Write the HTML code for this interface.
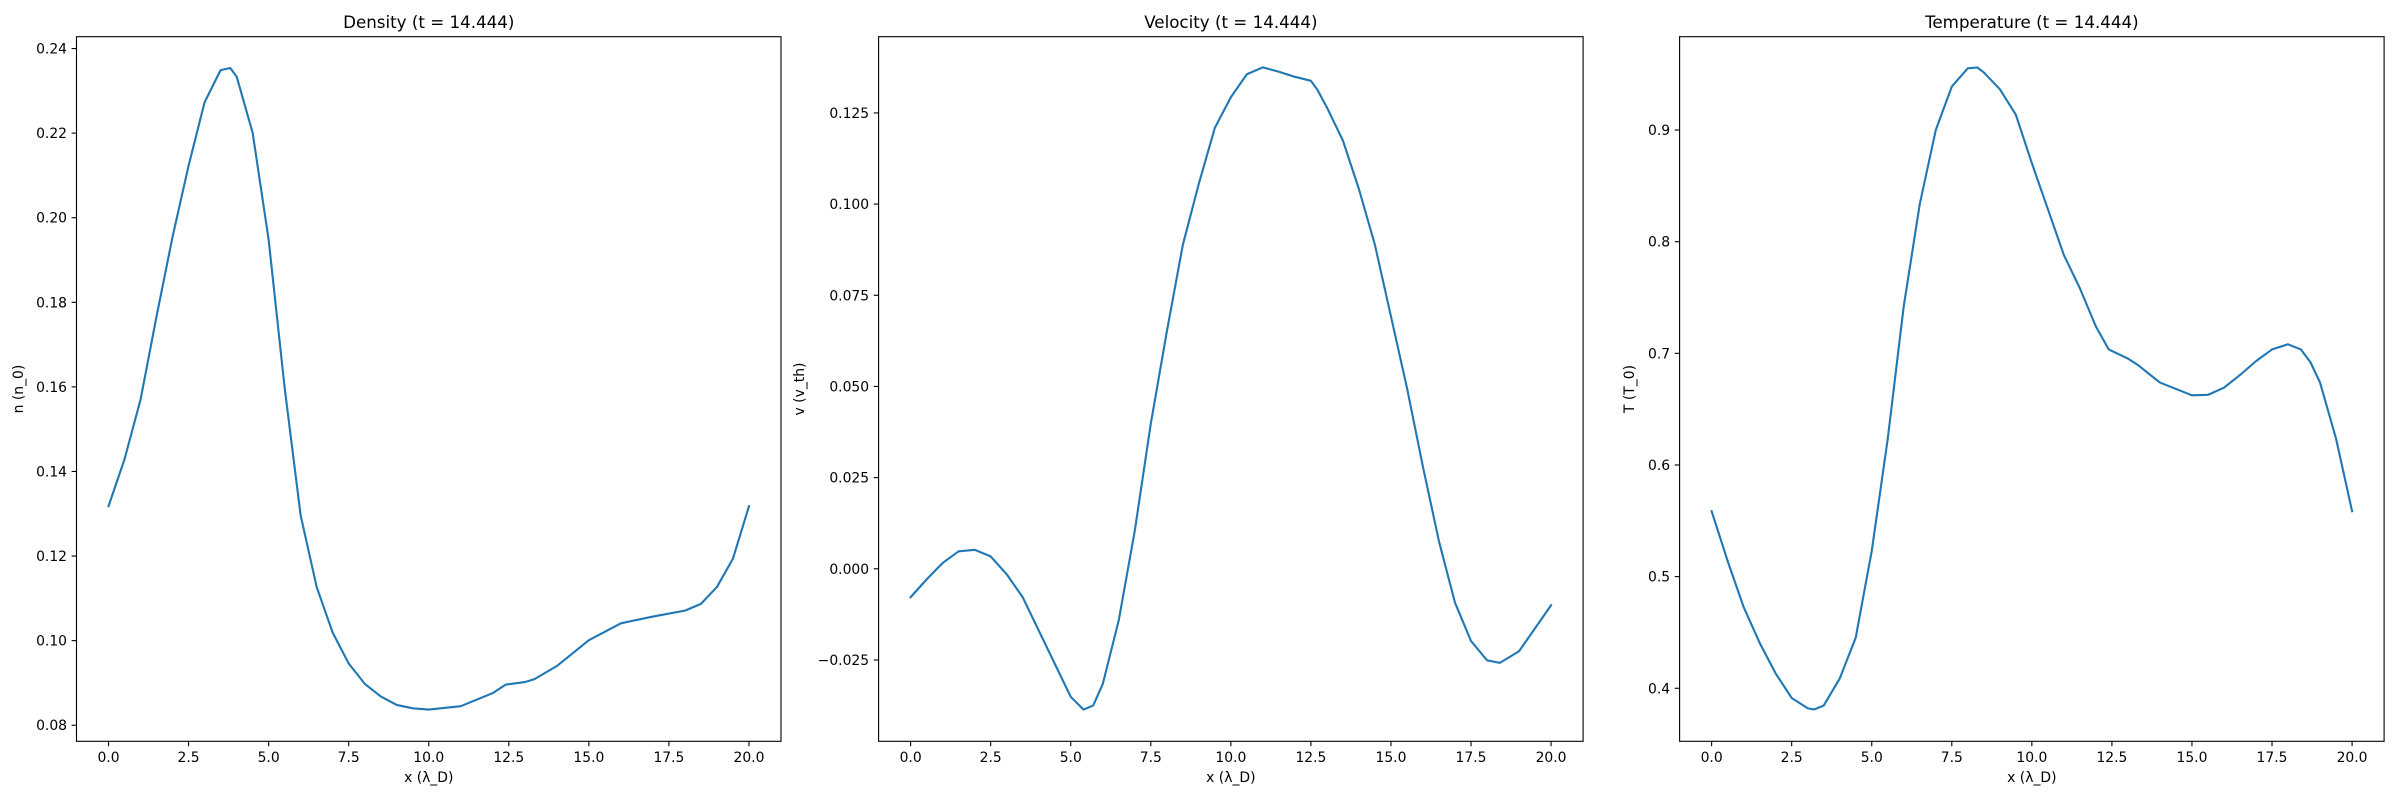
<!DOCTYPE html>
<html><head><meta charset="utf-8"><style>
html,body{margin:0;padding:0;background:#fff;}
svg{display:block;font-family:"DejaVu Sans","Liberation Sans",sans-serif;}
</style></head>
<body>
<svg id="fig" width="2400" height="800" viewBox="0 0 2400 800" xmlns="http://www.w3.org/2000/svg"></svg>
<script>
const xDensity=[0,0.5,1,1.5,2,2.5,3,3.5,3.8,4,4.5,5,5.5,6,6.5,7,7.5,8,8.5,9,9.5,10,11,12,12.4,13,13.3,14,15,16,17,18,18.5,19,19.5,20];
const density=[0.1318,0.1429,0.1570,0.1767,0.1955,0.2123,0.2273,0.2349,0.2354,0.2334,0.2201,0.1948,0.1598,0.1296,0.1127,0.1019,0.0946,0.0898,0.0868,0.0848,0.0840,0.0837,0.0845,0.0876,0.0896,0.0902,0.0909,0.0940,0.1001,0.1041,0.1057,0.1071,0.1087,0.1127,0.1194,0.1318];
const xVelocity=[0,0.5,1,1.5,2,2.5,3,3.5,4,4.5,5,5.4,5.7,6,6.5,7,7.5,8,8.5,9,9.5,10,10.5,11,11.5,12,12.5,12.7,13,13.5,14,14.5,15,15.5,16,16.5,17,17.5,18,18.4,19,19.5,20];
const velocity=[-0.0078,-0.0029,0.0016,0.0048,0.0052,0.0034,-0.0015,-0.0078,-0.0169,-0.0260,-0.0351,-0.0386,-0.0375,-0.0316,-0.0141,0.0104,0.0398,0.0650,0.0888,0.1056,0.1209,0.1293,0.1356,0.1375,0.1363,0.1349,0.1338,0.1314,0.1265,0.1174,0.1041,0.0888,0.0692,0.0496,0.0279,0.0075,-0.0093,-0.0198,-0.0251,-0.0258,-0.0226,-0.0163,-0.0100];
const xTemperature=[0,0.5,1,1.5,2,2.5,3,3.2,3.5,4,4.5,5,5.5,6,6.5,7,7.5,8,8.3,8.5,9,9.5,10,10.5,11,11.5,12,12.4,13,13.3,14,15,15.5,16,16.5,17,17.5,18,18.4,18.7,19,19.5,20];
const temperature=[0.5586,0.514,0.4727,0.4407,0.4132,0.3913,0.3821,0.381,0.3845,0.4087,0.4453,0.5230,0.6235,0.7423,0.8337,0.90,0.9389,0.9553,0.956,0.9516,0.9366,0.9137,0.8703,0.8292,0.788,0.7583,0.7240,0.7035,0.6953,0.6898,0.6738,0.6624,0.6628,0.6692,0.6806,0.6930,0.7035,0.7081,0.7035,0.692,0.6738,0.6235,0.5586];
const xTicks=[0,2.5,5,7.5,10,12.5,15,17.5,20];
const xTickLabels=["0.0","2.5","5.0","7.5","10.0","12.5","15.0","17.5","20.0"];
const densityTicks=[0.08,0.10,0.12,0.14,0.16,0.18,0.20,0.22,0.24];
const densityTickLabels=["0.08","0.10","0.12","0.14","0.16","0.18","0.20","0.22","0.24"];
const velocityTicks=[-0.025,0,0.025,0.05,0.075,0.1,0.125];
const velocityTickLabels=["\u22120.025","0.000","0.025","0.050","0.075","0.100","0.125"];
const temperatureTicks=[0.4,0.5,0.6,0.7,0.8,0.9];
const temperatureTickLabels=["0.4","0.5","0.6","0.7","0.8","0.9"];

const NS="http://www.w3.org/2000/svg";
const svg=document.getElementById('fig');
function mk(tag,attrs,parent){const e=document.createElementNS(NS,tag);for(const k in attrs)e.setAttribute(k,attrs[k]);(parent||svg).appendChild(e);return e;}
const TOP=36.7,BOT=741.3,W=704.5;
const panels=[
 {key:'density',left:76.5,title:'Density (t = 14.444)',ylabel:'n (n_0)',ylim:[0.0762,0.2428],xs:xDensity,ys:density,ticks:densityTicks,labels:densityTickLabels,ylx:23},
 {key:'velocity',left:878.6,title:'Velocity (t = 14.444)',ylabel:'v (v_th)',ylim:[-0.0473,0.1459],xs:xVelocity,ys:velocity,ticks:velocityTicks,labels:velocityTickLabels,ylx:804},
 {key:'temperature',left:1679.6,title:'Temperature (t = 14.444)',ylabel:'T (T_0)',ylim:[0.3525,0.9836],xs:xTemperature,ys:temperature,ticks:temperatureTicks,labels:temperatureTickLabels,ylx:1634}
];
panels.forEach(p=>{
 const g=mk('g',{});
 
 
 const xs=v=>p.left+(v+1)/22*W;
 const ys=v=>BOT-(v-p.ylim[0])/(p.ylim[1]-p.ylim[0])*(BOT-TOP);
 let d='';
 p.xs.forEach((x,i)=>{d+=(i?'L':'M')+xs(x).toFixed(2)+','+ys(p.ys[i]).toFixed(2);});
 const line=mk('path',{d:d,fill:'none',stroke:'#1f77b4','stroke-width':2.1,'stroke-linejoin':'round','stroke-linecap':'square'},g);
 
 
 const fr=mk('rect',{x:p.left,y:TOP,width:W,height:BOT-TOP,fill:'none',stroke:'#000','stroke-width':1.1},g);
 
 
 xTicks.forEach((t,i)=>{
  const x=xs(t);
  mk('line',{x1:x,x2:x,y1:BOT,y2:BOT+4.9,stroke:'#000','stroke-width':1.1},g);
  const tx=mk('text',{x:x,y:762,'font-size':13.9,'text-anchor':'middle',fill:'#000'},g);
  tx.textContent=xTickLabels[i];
  
  
 });
 p.ticks.forEach((t,i)=>{
  const y=ys(t);
  mk('line',{x1:p.left-4.9,x2:p.left,y1:y,y2:y,stroke:'#000','stroke-width':1.1},g);
  const tx=mk('text',{x:p.left-9.5,y:y+5,'font-size':13.9,'text-anchor':'end',fill:'#000'},g);
  tx.textContent=p.labels[i];
  
  
 });
 const ti=mk('text',{x:p.left+W/2,y:28,'font-size':16.7,'text-anchor':'middle',fill:'#000'},g);
 ti.textContent=p.title;
 
 
 const xl=mk('text',{x:p.left+W/2,y:782,'font-size':13.9,'text-anchor':'middle',fill:'#000'},g);
 xl.textContent='x (\u03bb_D)';
 
 
 const cy=(TOP+BOT)/2;
 const yl=mk('text',{x:p.ylx,y:cy,'font-size':13.9,'text-anchor':'middle',fill:'#000',transform:'rotate(-90 '+p.ylx+' '+cy+')'},g);
 yl.textContent=p.ylabel;
 
 
});
</script>
</body></html>
